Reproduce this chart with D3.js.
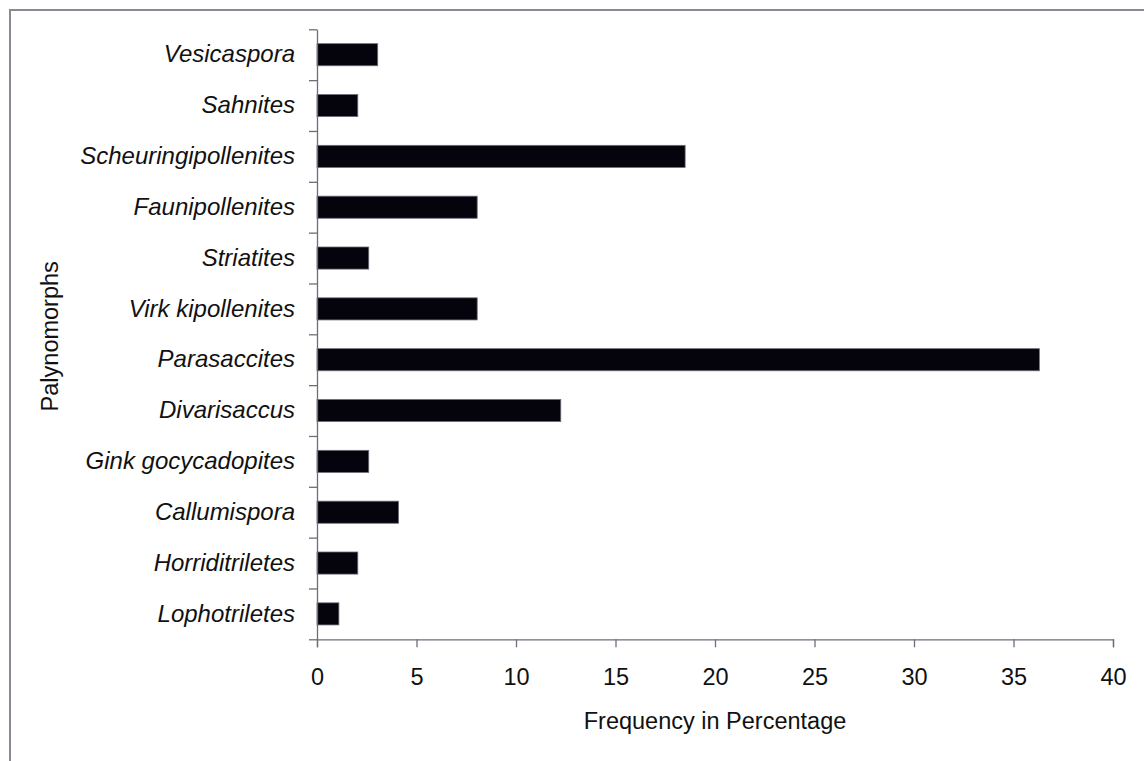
<!DOCTYPE html>
<html>
<head>
<meta charset="utf-8">
<script src="https://cdn.jsdelivr.net/npm/d3@7"></script>
<style>
  html, body { margin: 0; padding: 0; background: #fff; }
  svg { display: block; }
  text { font-family: "Liberation Sans", Arial, sans-serif; fill: #111; }
</style>
</head>
<body>
<svg id="chart" width="1144" height="761"></svg>
<script>
// Data (top to bottom as displayed)
const categories = ["Vesicaspora", "Sahnites", "Scheuringipollenites", "Faunipollenites",
  "Striatites", "Virk kipollenites", "Parasaccites", "Divarisaccus",
  "Gink gocycadopites", "Callumispora", "Horriditriletes", "Lophotriletes"];
const values = [3.05, 2.05, 18.5, 8.05, 2.6, 8.05, 36.3, 12.25, 2.6, 4.1, 2.05, 1.1];
const xTicks = [0, 5, 10, 15, 20, 25, 30, 35, 40];
const xTitle = "Frequency in Percentage";
const yTitle = "Palynomorphs";

const W = 1144, H = 761;
const m = { left: 317, top: 29.3, right: 1113, bottom: 639.3 };
const axisColor = "#6e6e7a";

const svg = d3.select("#chart");

// outer frame (left and top edges visible)
svg.append("path")
  .attr("d", `M10,${H} V10 H${W}`)
  .attr("fill", "none")
  .attr("stroke", "#8a8a96")
  .attr("stroke-width", 2);

const x = d3.scaleLinear().domain([0, 40]).range([m.left, m.right]);
const y = d3.scaleBand().domain(categories).range([m.top, m.bottom]).paddingInner(0.565).paddingOuter(0.2825);
const yLin = d3.scaleLinear().domain([0, categories.length]).range([m.bottom, m.top]);

// bars
svg.append("g").selectAll("rect")
  .data(categories.map((c, i) => ({ c, v: values[i] })))
  .join("rect")
  .attr("x", x(0))
  .attr("y", d => y(d.c))
  .attr("width", d => x(d.v) - x(0))
  .attr("height", y.bandwidth())
  .attr("fill", "#05040c")
  .attr("stroke", "#6e6e7a")
  .attr("stroke-width", 0.8);

// y axis: tick marks between categories
const gyTicks = svg.append("g")
  .attr("transform", `translate(${m.left},0)`)
  .call(d3.axisLeft(yLin).tickValues(d3.range(categories.length + 1)).tickFormat("").tickSize(8).tickSizeOuter(0));
gyTicks.selectAll("path, line").attr("stroke", axisColor).attr("stroke-width", 1.3);

// y axis labels
const gyLab = svg.append("g")
  .attr("transform", `translate(${m.left},0)`)
  .call(d3.axisLeft(y).tickSize(0).tickPadding(22));
gyLab.select(".domain").remove();
gyLab.selectAll("text")
  .attr("font-size", 24)
  .attr("font-style", "italic")
  .attr("font-family", "'Liberation Sans', Arial, sans-serif")
  .attr("fill", "#111");

// x axis
const gx = svg.append("g")
  .attr("transform", `translate(0,${m.bottom})`)
  .call(d3.axisBottom(x).tickValues(xTicks).tickSize(8).tickSizeOuter(8).tickPadding(21).tickFormat(d3.format("d")));
gx.selectAll("path, line").attr("stroke", axisColor).attr("stroke-width", 1.3);
gx.selectAll("text")
  .attr("font-size", 23.5)
  .attr("font-family", "'Liberation Sans', Arial, sans-serif")
  .attr("fill", "#111");

// axis titles
svg.append("text")
  .attr("x", (m.left + m.right) / 2)
  .attr("y", 729)
  .attr("text-anchor", "middle")
  .attr("font-size", 23.5)
  .text(xTitle);

svg.append("text")
  .attr("transform", `translate(58,${(m.top + m.bottom) / 2 + 2}) rotate(-90)`)
  .attr("text-anchor", "middle")
  .attr("font-size", 23.5)
  .text(yTitle);
</script>
</body>
</html>
